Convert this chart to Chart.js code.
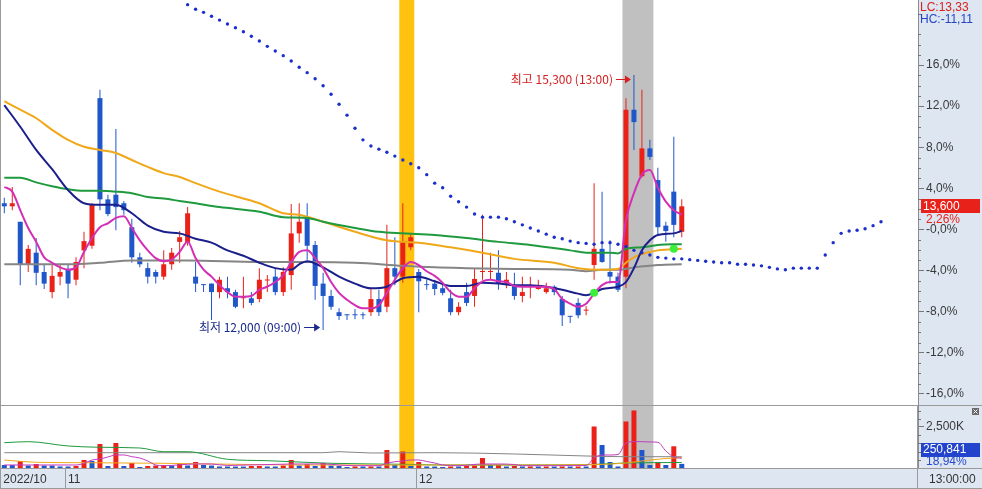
<!DOCTYPE html>
<html>
<head>
<meta charset="utf-8">
<script src="https://cdn.jsdelivr.net/npm/chart.js@4.4.1/dist/chart.umd.min.js"></script>
<style>
html, body { margin: 0; padding: 0; background: #fff; }
#wrap { position: relative; width: 982px; height: 489px; overflow: hidden; }
#priceBox { position: absolute; left: 0; top: 0; width: 982px; height: 405px; }
#volBox { position: absolute; left: 0; top: 405px; width: 982px; height: 84px; }
</style>
</head>
<body>
<div id="wrap">
  <div id="priceBox"><canvas id="priceChart" width="982" height="405"></canvas></div>
  <div id="volBox"><canvas id="volChart" width="982" height="84"></canvas></div>
</div>
<script>
// 기준가 (0%)
var BASE = 13300;
var HIGH_TIME = '13:00';
var LOW_TIME = '09:00';
var LAST_TIME = '13:00:00';

// 캔들 (시가, 고가, 저가, 종가)
var openP = [13640,13600,13400,12850,13000,12750,12490,12690,12790,12650,13030,13090,15000,13690,13750,13640,13330,12940,12800,12750,
  12690,12850,13140,13130,12690,12590,12600,12490,12540,12490,12410,12410,12400,12640,12690,12490,12710,13250,13450,13100,
  12600,12440,12230,12200,12200,12200,12230,12400,12300,12800,12690,13070,12750,12590,12600,12540,12410,12230,12490,12440,
  12750,12750,12740,12600,12580,12440,12560,12530,12490,12560,12400,12180,12350,12250,12840,13050,12750,12690,12690,14850,
  13990,14350,13940,13350,13790,13270];
var highP = [13710,13850,13400,13100,13190,12850,12840,12840,12840,12940,13270,13640,15110,13750,14600,13670,13440,13000,12870,12780,
  13030,13060,13280,13590,12880,12590,12600,12690,12690,12520,12690,12490,12800,12710,12800,12810,13630,13640,13640,13150,
  12740,12520,12280,12200,12270,12230,12540,12520,13360,13200,13640,13250,12790,12650,12650,12610,12520,12360,12610,12800,
  13490,13000,13030,12750,12740,12690,12690,12650,12610,12580,12440,12180,12410,12310,13900,13790,13160,12740,15000,15300,
  15110,14460,14100,13400,14500,13690];
var lowP = [13510,13550,12580,12750,12580,12530,12410,12580,12410,12580,12800,13050,13550,13470,13290,13490,12870,12810,12600,12600,
  12650,12780,12870,13090,12490,12490,12130,12410,12410,12280,12280,12320,12360,12490,12450,12440,12520,13130,12910,12390,
  12000,12260,12130,12130,12140,12140,12180,12180,12230,12580,12610,13030,12230,12520,12450,12450,12190,12190,12310,12300,
  12650,12650,12520,12540,12390,12360,12410,12520,12470,12450,12050,12090,12150,12190,12650,12870,12600,12490,12540,14330,
  13970,14200,13230,13140,13200,13200];
var closeP = [13600,13640,12850,13050,12740,12600,12700,12750,12600,12880,13150,13620,13690,13500,13590,13550,12940,12850,12690,12690,
  12850,13000,13200,13510,12600,12580,12490,12650,12490,12300,12420,12350,12650,12650,12490,12750,13250,13400,13090,12570,
  12440,12300,12180,12190,12190,12190,12400,12230,12800,12690,13150,13200,12630,12580,12530,12480,12230,12300,12350,12660,
  12760,12760,12600,12650,12440,12490,12570,12580,12540,12490,12190,12170,12190,12260,13050,12880,12690,12520,14850,14690,
  14350,14240,13330,13280,13360,13600];
var volume = [183000,180000,427000,152000,244000,150000,148000,92000,90000,122000,488000,427000,1464000,122000,1525000,122000,305000,61000,122000,152000,
  183000,150000,305000,152000,366000,183000,150000,92000,90000,88000,86000,122000,125000,92000,90000,152000,488000,152000,244000,122000,
  305000,152000,122000,61000,92000,90000,95000,92000,1098000,183000,1007000,122000,366000,92000,90000,61000,92000,90000,122000,152000,
  610000,183000,190000,92000,122000,92000,95000,90000,92000,88000,95000,90000,92000,90000,2530000,1403000,366000,92000,2836000,3508000,
  1098000,183000,366000,183000,1324400,250841];

// 이동평균선
var ma5Val = [13850,13790,13550,13320,13140,12940,12870,12810,12780,12810,13010,13190,13330,13380,13450,13470,13320,13160,13030,12930,
  12890,12910,13010,13140,12930,12780,12690,12580,12490,12430,12430,12440,12520,12560,12620,12710,12880,13010,13030,12930,
  12800,12620,12480,12390,12320,12280,12280,12320,12480,12650,12800,12880,12840,12760,12700,12610,12490,12430,12430,12540,
  12630,12650,12630,12620,12570,12560,12560,12560,12560,12530,12400,12340,12300,12340,12470,12580,12620,12620,13420,13770,
  14010,14070,13840,13660,13550,13490];
var navyIdx = [0,2,4,6,8,10,12,14,16,18,20,22,24,26,28,30,32,34,36,37,38,40,42,44,46,48,50,52,54,56,58,60,62,64,66,68,70,72,73,74,75,77,78,79,80,81,82,84,85];
var navyVal = [14910,14630,14330,14080,13810,13640,13620,13620,13510,13350,13270,13250,13180,13130,13030,12960,12870,12800,12780,12850,
  12890,12810,12690,12600,12540,12560,12670,12690,12630,12570,12570,12610,12600,12580,12580,12560,12520,12470,12450,12480,
  12530,12560,12620,12800,13030,13160,13230,13250,13280];
var greenIdx = [0,2,4,6,8,10,12,14,16,18,20,22,24,27,32,35,38,40,44,47,50,54,58,62,66,71,73,76,77,78,80,82,85];
var greenVal = [13970,13970,13910,13860,13820,13800,13800,13790,13770,13720,13700,13670,13640,13590,13530,13460,13450,13400,13320,13270,
  13250,13230,13190,13140,13100,13030,13000,13000,12990,13050,13070,13100,13110];
var orangeIdx = [0,2,4,6,8,10,12,14,16,18,20,22,24,27,32,35,37,40,44,48,50,52,56,60,64,69,72,75,77,78,79,81,82,85];
var orangeVal = [14960,14850,14740,14590,14460,14370,14330,14290,14200,14110,14030,13980,13900,13790,13640,13510,13490,13400,13270,13160,
  13140,13130,13070,13000,12920,12870,12800,12780,12790,12870,12940,13010,13030,13050];
var grayIdx = [0,8,12,16,23,32,38,44,50,54,58,64,71,73,75,77,79,82,85];
var grayVal = [12850,12850,12870,12900,12900,12880,12880,12870,12830,12810,12800,12790,12780,12760,12780,12780,12810,12840,12850];

// 선행스팬 점선 (23번째 봉부터)
var SPAN_START = 23;
var spanVal = [16210,16150,16110,16060,16010,15960,15910,15860,15800,15740,15670,15610,15550,15480,15400,15330,15250,15160,15050,14920,
  14780,14610,14460,14380,14340,14300,14250,14200,14150,14100,14010,13900,13840,13730,13660,13590,13500,13460,13460,13460,
  13440,13400,13360,13320,13280,13240,13200,13180,13150,13130,13120,13110,13130,13130,13110,13080,13030,13000,12970,12940,
  12930,12920,12920,12910,12900,12890,12880,12870,12870,12850,12850,12840,12830,12810,12790,12780,12800,12800,12800,12800,
  12970,13130,13250,13280,13290,13310,13350,13400];

// 신호 표시
var markIdx = [74, 84];
var markVal = [12480, 13050];

// 거래량 이동평균
var vMa5Idx = [0,9,10,11,12,13,14,15,16,17,18,19,20,24,26,28,36,38,40,42,44,47,48,49,50,51,52,53,54,55,57,60,62,64,65,73,74,75,76,77,78,79,80,81,82,83,84,85];
var vMa5Val = [183000,183000,287000,488000,549000,671000,793000,793000,689000,610000,427000,183000,140000,244000,244000,153000,244000,244000,250000,183000,
  140000,140000,287000,384000,427000,488000,488000,397000,305000,183000,140000,244000,244000,213000,140000,153000,610000,793000,793000,824000,
  1525000,1604000,1604000,1586000,1568000,1037000,671000,592000];
var vGreenIdx = [0,3,8,12,17,20,23,28,33,41,50,55,65,73,78,85];
var vGreenVal = [1543000,1604000,1342000,1263000,1220000,994000,994000,531000,445000,287000,226000,183000,183000,201000,305000,336000];
var vGrayIdx = [0,40,42,46,54,64,73,78,85];
var vGrayVal = [933000,933000,994000,915000,933000,854000,732000,689000,689000];
var vOrangeIdx = [0,4,10,20,29,37,60,73,78,80,83,85];
var vOrangeVal = [488000,348000,323000,287000,226000,183000,183000,201000,305000,427000,580000,640000];

// 축 눈금
var pctTicks = [16, 12, 8, 4, 0, -4, -8, -12, -16];
var pctLabels = ['16,0%', '12,0%', '8,0%', '4,0%', '-0,0%', '-4,0%', '-8,0%', '-12,0%', '-16,0%'];
var xTickPos = [-0.5, 7.6, 51.65];
var xTickText = ['2022/10', '11', '12'];
var volTicks = [2500000];
var volTickText = ['2,500K'];

// 강조 구간
var bandFrom = [50, 78];
var bandTo = [51, 81];
var bandColor = ['#ffc20e', '#c0c0c0'];

var X_MIN = -0.54, X_MAX = 114.64;
var Y_MIN = 11029, Y_MAX = 16270;
var V_MAX = 3840000;

var RED = '#ea2119';
var BLUE = '#1f56c9';
var AXIS_BG = '#dde6f1';
var LINE_GRAY = '#9a9a9a';

Chart.defaults.font.family = "'Liberation Sans', 'DejaVu Sans', sans-serif";
Chart.defaults.font.size = 12;
Chart.defaults.color = '#333';

var idx = closeP.map(function (_, i) { return i; });
var candleColor = closeP.map(function (c, i) { return c >= openP[i] ? RED : BLUE; });
var volColor = volume.map(function (v, i) { return (i > 0 && v > volume[i - 1]) ? RED : BLUE; });
var spanIdx = spanVal.map(function (_, k) { return SPAN_START + k; });

function xy(ix, vals) {
  return ix.map(function (x, k) { return { x: x, y: vals[k] }; });
}
function comma(v, d) {
  return v.toFixed(d).replace('.', ',');
}

function drawBands(chart) {
  var ctx = chart.ctx, a = chart.chartArea, xs = chart.scales.x;
  ctx.save();
  for (var b = 0; b < bandFrom.length; b++) {
    var x0 = xs.getPixelForValue(bandFrom[b] - 0.44);
    var x1 = xs.getPixelForValue(bandTo[b] + 0.44);
    ctx.fillStyle = bandColor[b];
    ctx.fillRect(x0, a.top, x1 - x0, a.bottom - a.top);
  }
  ctx.restore();
}

function arrow(ctx, x0, x1, y, color) {
  ctx.strokeStyle = color;
  ctx.fillStyle = color;
  ctx.lineWidth = 1;
  ctx.beginPath();
  ctx.moveTo(x0, y + 0.5);
  ctx.lineTo(x1 - 5, y + 0.5);
  ctx.stroke();
  ctx.beginPath();
  ctx.moveTo(x1, y + 0.5);
  ctx.lineTo(x1 - 6, y - 3.5);
  ctx.lineTo(x1 - 6, y + 4.5);
  ctx.closePath();
  ctx.fill();
}

var mainDeco = {
  id: 'mainDeco',
  beforeDraw: function (chart) {
    var ctx = chart.ctx, a = chart.chartArea;
    ctx.save();
    ctx.fillStyle = '#fff';
    ctx.fillRect(0, 0, chart.width, chart.height);
    ctx.fillStyle = AXIS_BG;
    ctx.fillRect(a.right, 0, chart.width - a.right, chart.height);
    ctx.restore();
  },
  beforeDatasetsDraw: function (chart) { drawBands(chart); },
  afterDraw: function (chart) {
    var ctx = chart.ctx, a = chart.chartArea, xs = chart.scales.x, ys = chart.scales.y;
    ctx.save();
    // 왼쪽 테두리
    ctx.fillStyle = LINE_GRAY;
    ctx.fillRect(0, 0, 1, chart.height);

    // 보조 눈금
    ctx.strokeStyle = '#777';
    ctx.lineWidth = 1;
    for (var k = -22; k <= 22; k++) {
      if (k % 4 === 0) continue;
      var ty = Math.round(ys.getPixelForValue(BASE * (1 + k / 100))) + 0.5;
      if (ty < 4 || ty > a.bottom - 2) continue;
      ctx.beginPath();
      ctx.moveTo(a.right, ty);
      ctx.lineTo(a.right + 3, ty);
      ctx.stroke();
    }

    // LC / HC
    var last = closeP[closeP.length - 1];
    var lo = Math.min.apply(null, lowP), hi = Math.max.apply(null, highP);
    ctx.font = "12px 'Liberation Sans'";
    ctx.textBaseline = 'middle';
    ctx.textAlign = 'left';
    ctx.fillStyle = '#d8221c';
    ctx.fillText('LC:' + comma((last / lo - 1) * 100, 2), a.right + 2, 8);
    ctx.fillStyle = '#2446c4';
    ctx.fillText('HC:' + comma((last / hi - 1) * 100, 2), a.right + 2, 20);

    // 현재가 표시
    var py = ys.getPixelForValue(last);
    ctx.fillStyle = '#e8221a';
    ctx.fillRect(a.right + 3, Math.round(py) - 7, chart.width - a.right - 5, 14);
    ctx.fillStyle = '#fff';
    ctx.fillText(last.toLocaleString('en-US'), a.right + 5, py);
    ctx.fillStyle = '#e8221a';
    ctx.fillText(comma((last / BASE - 1) * 100, 2) + '%', a.right + 8, py + 13);

    // 최고 / 최저 표시
    var hiI = highP.indexOf(hi), loI = lowP.indexOf(lo);
    var hx = xs.getPixelForValue(hiI), hy = ys.getPixelForValue(hi) + 4;
    ctx.font = "12px 'Noto Sans CJK KR', 'Liberation Sans'";
    ctx.textAlign = 'right';
    ctx.fillStyle = '#d42020';
    ctx.fillText('최고 ' + hi.toLocaleString('en-US') + ' (' + HIGH_TIME + ')', hx - 21, hy);
    arrow(ctx, hx - 18, hx - 3, Math.round(hy), '#d42020');

    var lx = xs.getPixelForValue(loI), ly = ys.getPixelForValue(lo) - 3;
    ctx.fillStyle = '#1a2a8c';
    ctx.fillText('최저 ' + lo.toLocaleString('en-US') + ' (' + LOW_TIME + ')', lx - 22, ly);
    arrow(ctx, lx - 19, lx - 3, Math.round(ly), '#1a2a8c');
    ctx.restore();
  }
};

var volDeco = {
  id: 'volDeco',
  beforeDraw: function (chart) {
    var ctx = chart.ctx, a = chart.chartArea;
    ctx.save();
    ctx.fillStyle = '#fff';
    ctx.fillRect(0, 0, chart.width, chart.height);
    ctx.fillStyle = AXIS_BG;
    ctx.fillRect(a.right, 0, chart.width - a.right, chart.height);
    ctx.fillRect(0, a.bottom, chart.width, chart.height - a.bottom);
    ctx.restore();
  },
  beforeDatasetsDraw: function (chart) { drawBands(chart); },
  afterDraw: function (chart) {
    var ctx = chart.ctx, a = chart.chartArea, xs = chart.scales.x, ys = chart.scales.y;
    ctx.save();
    ctx.fillStyle = LINE_GRAY;
    ctx.fillRect(0, 0, chart.width, 1);
    ctx.fillRect(0, Math.round(a.bottom), chart.width, 1);
    ctx.fillRect(0, 0, 1, chart.height);
    ctx.fillRect(Math.round(a.right) - 1, 0, 1, chart.height);
    ctx.fillRect(0, chart.height - 1, chart.width, 1);
    for (var t = 1; t < xTickPos.length; t++) {
      var sx = Math.round(xs.getPixelForValue(xTickPos[t]));
      ctx.fillRect(sx, a.bottom, 1, chart.height - a.bottom);
    }

    // 보조 눈금
    ctx.strokeStyle = '#777';
    for (var v = 500000; v < V_MAX; v += 500000) {
      if (v === volTicks[0]) continue;
      var ty = Math.round(ys.getPixelForValue(v)) + 0.5;
      ctx.beginPath();
      ctx.moveTo(a.right, ty);
      ctx.lineTo(a.right + 3, ty);
      ctx.stroke();
    }

    // 닫기 버튼
    ctx.fillStyle = '#6a6a6a';
    ctx.fillRect(972, 3, 7, 7);
    ctx.strokeStyle = '#fff';
    ctx.beginPath();
    ctx.moveTo(973.5, 4.5); ctx.lineTo(977.5, 8.5);
    ctx.moveTo(977.5, 4.5); ctx.lineTo(973.5, 8.5);
    ctx.stroke();

    // 거래량 표시
    var last = volume[volume.length - 1], prev = volume[volume.length - 2];
    ctx.font = "12px 'Liberation Sans'";
    ctx.textBaseline = 'middle';
    ctx.textAlign = 'left';
    ctx.fillStyle = '#2244cc';
    ctx.fillRect(a.right + 3, 38, chart.width - a.right - 5, 14);
    ctx.fillStyle = '#fff';
    ctx.fillText(last.toLocaleString('en-US'), a.right + 5, 45);
    ctx.fillStyle = '#2a4bd0';
    ctx.fillText(comma(last / prev * 100, 2) + '%', a.right + 8, 57);

    ctx.fillStyle = '#333';
    ctx.fillText(LAST_TIME, a.right + 11, (a.bottom + chart.height) / 2 + 1);
    ctx.restore();
  }
};

new Chart(document.getElementById('priceChart'), {
  type: 'bar',
  data: {
    datasets: [
      { type: 'line', label: 'signal', data: xy(markIdx, markVal), showLine: false,
        pointRadius: 4, pointBackgroundColor: '#3bef3b', pointBorderWidth: 0, order: 0 },
      { type: 'line', label: 'span', data: xy(spanIdx, spanVal), showLine: false,
        pointRadius: 1.7, pointBackgroundColor: '#1b2fc9', pointBorderWidth: 0, order: 1 },
      { type: 'line', label: 'MA5', data: xy(idx, ma5Val), borderColor: '#d42fb4', borderWidth: 2,
        pointRadius: 0, cubicInterpolationMode: 'monotone', order: 2 },
      { type: 'line', label: 'MA20', data: xy(navyIdx, navyVal), borderColor: '#1a1f8c', borderWidth: 2,
        pointRadius: 0, cubicInterpolationMode: 'monotone', order: 3 },
      { type: 'line', label: 'MA60', data: xy(greenIdx, greenVal), borderColor: '#1f9a3e', borderWidth: 2,
        pointRadius: 0, cubicInterpolationMode: 'monotone', order: 4 },
      { type: 'line', label: 'MA120', data: xy(orangeIdx, orangeVal), borderColor: '#f0a81a', borderWidth: 2,
        pointRadius: 0, cubicInterpolationMode: 'monotone', order: 5 },
      { type: 'line', label: 'MA240', data: xy(grayIdx, grayVal), borderColor: '#858585', borderWidth: 2,
        pointRadius: 0, cubicInterpolationMode: 'monotone', order: 6 },
      { label: 'body', data: idx.map(function (i) { return { x: i, y: [openP[i], closeP[i]] }; }),
        backgroundColor: candleColor, barThickness: 5, minBarLength: 1, grouped: false, inflateAmount: 0, order: 7 },
      { label: 'wick', data: idx.map(function (i) { return { x: i, y: [lowP[i], highP[i]] }; }),
        backgroundColor: candleColor, barThickness: 1, grouped: false, inflateAmount: 0, order: 8 }
    ]
  },
  options: {
    responsive: false,
    animation: false,
    devicePixelRatio: 1,
    layout: { padding: 0, autoPadding: false },
    plugins: { legend: { display: false }, tooltip: { enabled: false } },
    scales: {
      x: { type: 'linear', min: X_MIN, max: X_MAX, offset: false, display: false },
      y: {
        type: 'linear', position: 'right', min: Y_MIN, max: Y_MAX, beginAtZero: false,
        afterBuildTicks: function (s) {
          s.ticks = pctTicks.map(function (p) { return { value: BASE * (1 + p / 100) }; });
        },
        afterFit: function (s) { s.width = 64; s.paddingTop = 0; s.paddingBottom = 0; },
        ticks: { autoSkip: false, padding: 2, color: '#3a3a3a',
          callback: function (v, i) { return pctLabels[i]; } },
        grid: { drawOnChartArea: false, tickLength: 6, color: '#777' },
        border: { color: '#8c8c8c' }
      }
    }
  },
  plugins: [mainDeco]
});

new Chart(document.getElementById('volChart'), {
  type: 'bar',
  data: {
    datasets: [
      { type: 'line', label: 'vMA5', data: xy(vMa5Idx, vMa5Val), borderColor: '#c43cc0', borderWidth: 1,
        pointRadius: 0, cubicInterpolationMode: 'monotone', order: 0 },
      { type: 'line', label: 'vMA20', data: xy(vOrangeIdx, vOrangeVal), borderColor: '#f0a81a', borderWidth: 1,
        pointRadius: 0, cubicInterpolationMode: 'monotone', order: 1 },
      { type: 'line', label: 'vMA60', data: xy(vGreenIdx, vGreenVal), borderColor: '#1f9a3e', borderWidth: 1,
        pointRadius: 0, cubicInterpolationMode: 'monotone', order: 2 },
      { type: 'line', label: 'vMA120', data: xy(vGrayIdx, vGrayVal), borderColor: '#858585', borderWidth: 1,
        pointRadius: 0, cubicInterpolationMode: 'monotone', order: 3 },
      { label: 'volume', data: idx.map(function (i) { return { x: i, y: volume[i] }; }),
        backgroundColor: volColor, barThickness: 5, grouped: false, inflateAmount: 0, order: 4 }
    ]
  },
  options: {
    responsive: false,
    animation: false,
    devicePixelRatio: 1,
    layout: { padding: 0, autoPadding: false },
    plugins: { legend: { display: false }, tooltip: { enabled: false } },
    scales: {
      x: {
        type: 'linear', min: X_MIN, max: X_MAX, offset: false, position: 'bottom',
        afterBuildTicks: function (s) {
          s.ticks = xTickPos.map(function (v) { return { value: v }; });
        },
        afterFit: function (s) { s.height = 21; s.paddingLeft = 0; s.paddingRight = 0; },
        ticks: { align: 'start', labelOffset: 3, padding: 4, maxRotation: 0, minRotation: 0,
          autoSkip: false, color: '#333', callback: function (v, i) { return xTickText[i]; } },
        grid: { drawOnChartArea: false, drawTicks: false },
        border: { display: false }
      },
      y: {
        type: 'linear', position: 'right', min: 0, max: V_MAX, beginAtZero: false,
        afterBuildTicks: function (s) {
          s.ticks = volTicks.map(function (v) { return { value: v }; });
        },
        afterFit: function (s) { s.width = 64; s.paddingTop = 0; s.paddingBottom = 0; },
        ticks: { autoSkip: false, padding: 2, color: '#3a3a3a',
          callback: function (v, i) { return volTickText[i]; } },
        grid: { drawOnChartArea: false, tickLength: 6, color: '#777' },
        border: { color: '#8c8c8c' }
      }
    }
  },
  plugins: [volDeco]
});
</script>
</body>
</html>
